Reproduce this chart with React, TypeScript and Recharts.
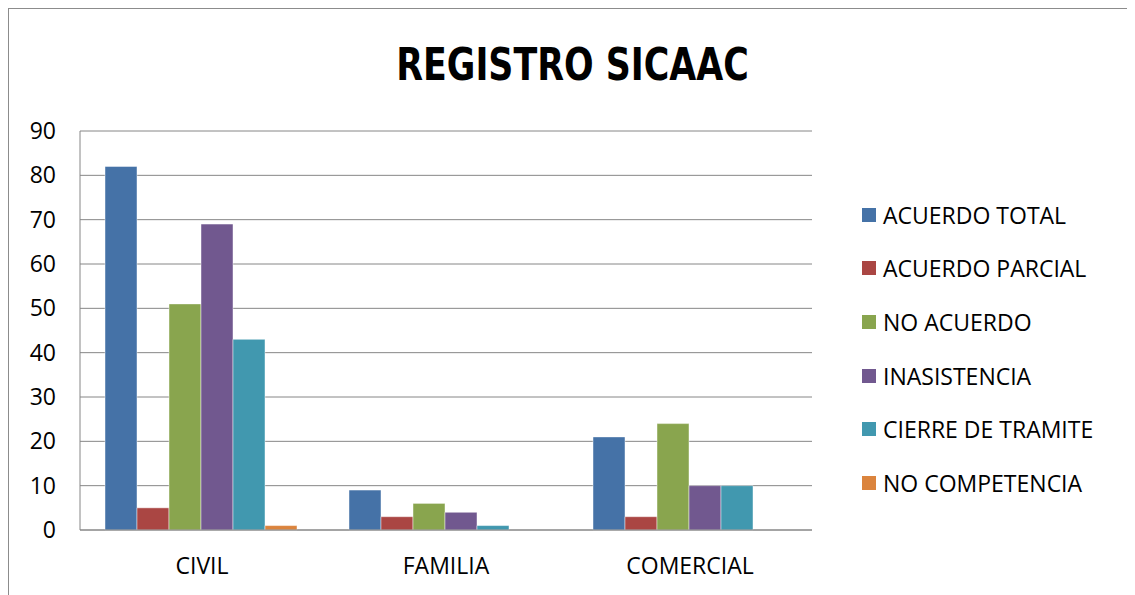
import React from "react";
import { BarChart, Bar, XAxis, YAxis, CartesianGrid, Legend } from "recharts";

const categories = ["CIVIL", "FAMILIA", "COMERCIAL"];
const acuerdoTotal = [82, 9, 21];
const acuerdoParcial = [5, 3, 3];
const noAcuerdo = [51, 6, 24];
const inasistencia = [69, 4, 10];
const cierreTramite = [43, 1, 10];
const noCompetencia = [1, 0, 0];
const yTicks = [0, 10, 20, 30, 40, 50, 60, 70, 80, 90];

const series = [
  { key: "total", name: "ACUERDO TOTAL", color: "#4572A7", values: acuerdoTotal },
  { key: "parcial", name: "ACUERDO PARCIAL", color: "#AA4643", values: acuerdoParcial },
  { key: "noAcuerdo", name: "NO ACUERDO", color: "#89A54E", values: noAcuerdo },
  { key: "inasistencia", name: "INASISTENCIA", color: "#71588F", values: inasistencia },
  { key: "cierre", name: "CIERRE DE TRAMITE", color: "#4198AF", values: cierreTramite },
  { key: "noCompetencia", name: "NO COMPETENCIA", color: "#DB843D", values: noCompetencia },
];

const data = categories.map((name, i) => {
  const row: any = { name };
  series.forEach((s) => {
    row[s.key] = s.values[i];
  });
  return row;
});

const FONT = "'Open Sans', 'Noto Sans', sans-serif";
const GRID = "#868686";

// keep the series order (recharts sorts legend payload by name otherwise)
function LegendList() {
  return (
    <div style={{ fontFamily: FONT, fontSize: 23, color: "#000" }}>
      {series.map((s) => (
        <div key={s.key} style={{ display: "flex", alignItems: "center", height: 53.6 }}>
          <span style={{ width: 14, height: 14, background: s.color, marginRight: 7, display: "inline-block" }} />
          <span>{s.name}</span>
        </div>
      ))}
    </div>
  );
}

export default function App() {
  return (
    <div
      style={{
        position: "relative",
        width: 1120,
        height: 600,
        border: "1px solid #8c8c8c",
        background: "#fff",
      }}
    >
      <div
        style={{
          position: "absolute",
          left: 0,
          top: 32,
          width: 1127,
          textAlign: "center",
          fontFamily: "'Liberation Sans Narrow', 'DejaVu Sans Condensed', 'Open Sans', sans-serif",
          fontWeight: "bold",
          fontSize: 45,
          lineHeight: "48px",
          color: "#000",
          transform: "scaleX(0.86)",
        }}
      >
        REGISTRO SICAAC
      </div>
      <BarChart
        width={1120}
        height={590}
        data={data}
        margin={{ top: 122, right: 317, left: 11, bottom: 29 }}
        barCategoryGap={25}
        barGap={0}
      >
        <CartesianGrid vertical={false} stroke={GRID} strokeWidth={1} />
        <XAxis
          dataKey="name"
          height={40}
          stroke={GRID}
          tickLine={false}
          tickSize={0}
          tickMargin={28}
          tick={{ fill: "#000", fontSize: 23, fontFamily: FONT }}
        />
        <YAxis
          width={60}
          domain={[0, 90]}
          ticks={yTicks}
          stroke={GRID}
          tickLine={false}
          tickSize={0}
          tickMargin={24}
          tick={{ fill: "#000", fontSize: 23, fontFamily: FONT }}
        />
        <Legend
          layout="vertical"
          align="center"
          verticalAlign="middle"
          wrapperStyle={{ left: 853, top: 179, width: 270 }}
          content={<LegendList />}
        />
        {series.map((s) => (
          <Bar
            key={s.key}
            dataKey={s.key}
            name={s.name}
            fill={s.color}
            stroke="rgba(255,255,255,0.45)"
            strokeWidth={1}
            isAnimationActive={false}
          />
        ))}
      </BarChart>
    </div>
  );
}
